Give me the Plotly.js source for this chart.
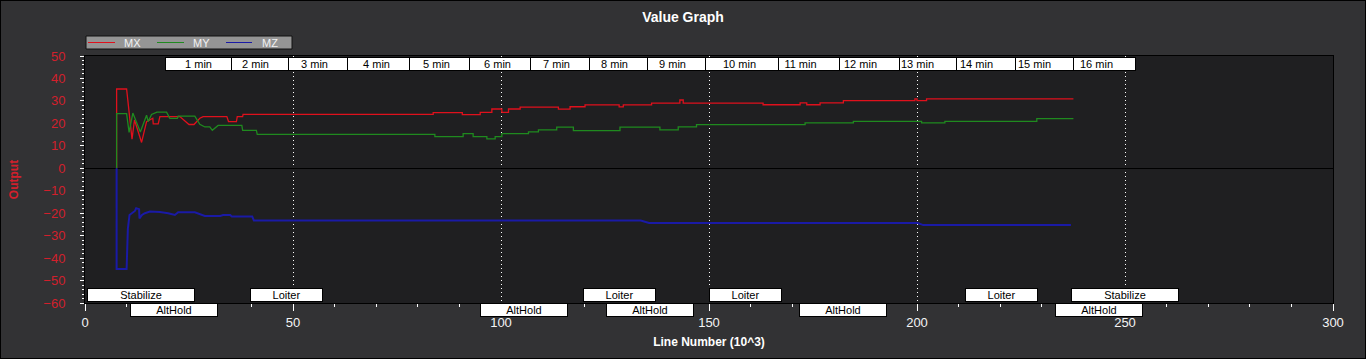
<!DOCTYPE html>
<html><head><meta charset="utf-8">
<script src="https://cdn.plot.ly/plotly-3.0.1.min.js"></script>
<style>html,body{margin:0;padding:0;background:#000;overflow:hidden}#g{position:absolute;left:1px;top:1px;width:1364px;height:357px}</style>
</head><body><div id="g"></div>
<script>
// MX
const mxX = [7.6,7.6,10.0,11.3,11.9,13.6,14.8,15.6,16.3,16.4,17.6,18.0,22.8,25.0,26.2,27.6,28.4,34.1,34.5,36.4,36.6,37.9,38.0,83.7,83.7,90.7,90.7,95.0,95.0,97.8,97.8,100.2,100.2,101.8,101.8,104.6,104.6,113.8,113.8,116.6,116.6,120.2,120.2,128.4,128.4,129.4,129.4,136.2,136.2,143.0,143.0,143.8,143.8,163.0,163.0,171.9,171.9,173.5,173.5,176.7,176.7,182.3,182.3,199.5,199.5,200.0,200.0,202.3,202.3,237.6];
const mxY = [0,35.3,35.3,13.0,21.5,11.5,20.8,21.8,22.3,19.8,19.8,23.0,23.0,19.5,19.5,22.3,23.0,23.0,20.8,20.8,23.0,23.0,24.0,24.0,24.8,24.8,23.9,23.9,24.9,24.9,26.4,26.4,24.9,24.9,26.4,26.4,27.2,27.2,26.3,26.3,27.4,27.4,28.2,28.2,27.3,27.3,28.2,28.2,29.0,29.0,30.4,30.4,29.0,29.0,28.3,28.3,29.1,29.1,28.3,28.3,29.1,29.1,30.1,30.1,30.9,30.9,30.1,30.1,30.9,30.9];
// MY
const myX = [7.6,7.6,10.0,10.6,11.5,13.3,14.8,15.2,16.0,17.3,19.6,20.2,20.4,22.2,22.4,26.4,27.6,28.8,30.0,30.6,31.6,32.0,37.7,37.9,41.2,41.4,84.1,84.1,90.9,90.9,93.3,93.3,96.6,96.6,98.6,98.6,100.2,100.2,106.6,106.6,109.0,109.0,113.4,113.4,117.4,117.4,128.6,128.6,138.2,138.2,142.6,142.6,147.0,147.0,173.1,173.1,184.7,184.7,201.1,201.1,206.7,206.7,228.8,228.8,237.6];
const myY = [0,24.3,24.3,16.0,24.6,16.2,23.6,20.8,24.0,25.0,25.0,23.3,22.2,22.2,23.2,23.2,19.6,18.4,18.4,16.9,18.2,19.1,19.1,16.9,16.9,15.1,15.1,14.1,14.1,15.4,15.4,14.1,14.1,13.1,13.1,14.1,14.1,15.4,15.4,16.2,16.2,17.1,17.1,18.3,18.3,16.8,16.8,18.3,18.3,17.1,17.1,18.4,18.4,19.4,19.4,20.2,20.2,20.9,20.9,20.2,20.2,20.9,20.9,22.1,22.1];
// MZ
const mzX = [7.6,7.6,10.0,10.3,10.7,11.6,12.0,12.3,13.0,13.1,13.7,14.4,15.6,18.0,20.0,21.6,22.4,26.4,27.6,28.8,32.5,33.2,34.9,35.3,40.2,40.6,133.6,135.6,200.2,201.5,237.0];
const mzY = [0,-44.9,-44.9,-27.0,-20.8,-19.8,-19.0,-17.8,-18.2,-22.3,-20.8,-20.0,-19.3,-19.5,-20.0,-20.8,-19.6,-19.6,-20.3,-21.2,-21.2,-20.8,-20.8,-21.5,-21.5,-23.3,-23.3,-24.4,-24.4,-25.3,-25.3];

const seriesNames = ['MX','MY','MZ'];

// time markers (line number, 10^3)
const minuteLabels = ['1 min','2 min','3 min','4 min','5 min','6 min','7 min','8 min','9 min','10 min','11 min','12 min','13 min','14 min','15 min','16 min'];
const minuteAt = [27.3,41.0,55.2,70.1,84.5,99.2,113.4,127.4,141.3,157.3,171.9,186.3,200.2,214.2,228.3,243.1];

// flight modes (line number where box starts)
const modeNames = ['Stabilize','AltHold','Loiter','AltHold','Loiter','AltHold','Loiter','AltHold','Loiter','AltHold','Stabilize'];
const modeStart = [0.5,10.8,39.7,95.0,119.7,125.2,150.0,171.6,211.5,233.2,237.0];

const xTickVals = [0,50,100,150,200,250,300];
const yTickVals = [50,40,30,20,10,0,-10,-20,-30,-40,-50,-60];

// styles
const FONT = 'Liberation Sans, Arial, sans-serif';
const RED = '#d2202c';
const colors = ['#e0101c','#1f8a1f','#1a1aa6'];
const widths = [1.3,1.3,2];
const modeBoxW = {Stabilize:108, AltHold:88, Loiter:73};
const M = {l:84, r:32, t:55, b:55}, W = 1364, H = 357;
const PW = W - M.l - M.r, PH = H - M.t - M.b;
const px = v => (v - M.l) / PW;           // div x pixel -> paper
const py = v => 1 + (M.t - v) / PH;       // div y pixel -> paper

const traces = [[mxX,mxY],[myX,myY],[mzX,mzY]].map((d,i) => ({
  x:d[0], y:d[1], name:seriesNames[i], mode:'lines', showlegend:false,
  line:{color:colors[i], width:widths[i]}
}));

const ann = [];
const shapes = [];
// hand-built legend box (ZedGraph style)
shapes.push({type:'rect', xref:'paper', yref:'paper', x0:px(85), x1:px(291), y0:py(48), y1:py(35),
  fillcolor:'#959595', line:{color:'#111111', width:1}, layer:'above'});
const legLine = [[87,114],[156,183],[225,251]];
const legText = [121,190,259];
seriesNames.forEach((n,i) => {
  shapes.push({type:'line', xref:'paper', yref:'paper', x0:px(legLine[i][0]), x1:px(legLine[i][1]),
    y0:py(41.5), y1:py(41.5), line:{color:colors[i], width:1}, layer:'above'});
  ann.push({x:px(legText[i]), xref:'paper', y:py(41.5), yref:'paper', xanchor:'left', yanchor:'middle',
    text:n, showarrow:false, font:{family:FONT, size:11, color:'#f2f2f2'}});
});

for (let i = minuteLabels.length - 1; i >= 0; i--) {
  const w = minuteLabels[i].length > 5 ? 77 : 65;
  ann.push({x:minuteAt[i], xref:'x', y:1, yref:'paper', xanchor:'center', yanchor:'top', yshift:-1,
    text:minuteLabels[i], showarrow:false, width:w, height:12, bgcolor:'#ffffff', bordercolor:'#000000',
    borderwidth:1, borderpad:0, font:{family:FONT, size:11, color:'#000'}});
}
modeNames.forEach((m, i) => {
  const upper = i % 2 === 0;
  ann.push({x:modeStart[i], xref:'x', y:0, yref:'paper', xanchor:'left', yanchor: upper ? 'bottom' : 'top',
    yshift: upper ? 1 : 0, text:m, showarrow:false, width:modeBoxW[m]-2, height:12, bgcolor:'#ffffff',
    bordercolor:'#000000', borderwidth:1, borderpad:0, font:{family:FONT, size:11, color:'#000'}});
});

const layout = {
  width:W, height:H,
  margin:M,
  paper_bgcolor:'#323234', plot_bgcolor:'#1f1f21',
  font:{family:FONT, color:'#ffffff'},
  title:{text:'Value Graph', x:0.5, xref:'container', y:1-16/357, yref:'container', yanchor:'middle',
    font:{family:FONT, size:14, color:'#ffffff', weight:'bold'}},
  showlegend:false,
  xaxis:{range:[0,300], tickvals:xTickVals, ticks:'outside', ticklen:7, tickcolor:'#ffffff', tickwidth:1,
    showline:true, linecolor:'#000000', linewidth:1, mirror:true,
    showgrid:true, gridcolor:'#ffffff', griddash:'1px,3px', gridwidth:1, zeroline:false,
    tickfont:{family:FONT, size:13, color:'#f4f4f4'}, ticklabelstandoff:0,
    minor:{dtick:10, ticks:'outside', ticklen:3, tickcolor:'#ffffff', showgrid:false},
    title:{text:'Line Number (10^3)', standoff:9, font:{family:FONT, size:12, color:'#ffffff', weight:'bold'}}},
  yaxis:{range:[-60,50], tickvals:yTickVals, ticks:'outside', ticklen:4, tickcolor:'#ffffff', tickwidth:1,
    showline:true, linecolor:'#000000', linewidth:1, mirror:true,
    showgrid:false, zeroline:true, zerolinecolor:'#000000', zerolinewidth:1,
    tickfont:{family:FONT, size:13, color:RED}, ticklabelstandoff:12,
    minor:{dtick:2, ticks:'outside', ticklen:2, tickcolor:'#ffffff', showgrid:false},
    title:{text:'Output', standoff:22, font:{family:FONT, size:12, color:RED, weight:'bold'}}},
  xaxis2:{overlaying:'x', anchor:'y', side:'bottom', range:[0,300], dtick:50, ticks:'', mirror:'ticks',
    showline:false, showgrid:false, zeroline:false, showticklabels:false,
    minor:{dtick:10, ticks:'inside', ticklen:3, tickcolor:'#ffffff', showgrid:false}},
  yaxis2:{overlaying:'y', anchor:'x', side:'left', range:[-60,50], dtick:10, ticks:'inside', ticklen:5,
    tickcolor:'#ffffff', showline:false, showgrid:false, zeroline:false, showticklabels:false,
    minor:{dtick:2, ticks:'inside', ticklen:3, tickcolor:'#ffffff', showgrid:false}},
  shapes:shapes,
  annotations:ann
};

Plotly.newPlot('g', traces, layout, {displayModeBar:false, staticPlot:true});
</script></body></html>
